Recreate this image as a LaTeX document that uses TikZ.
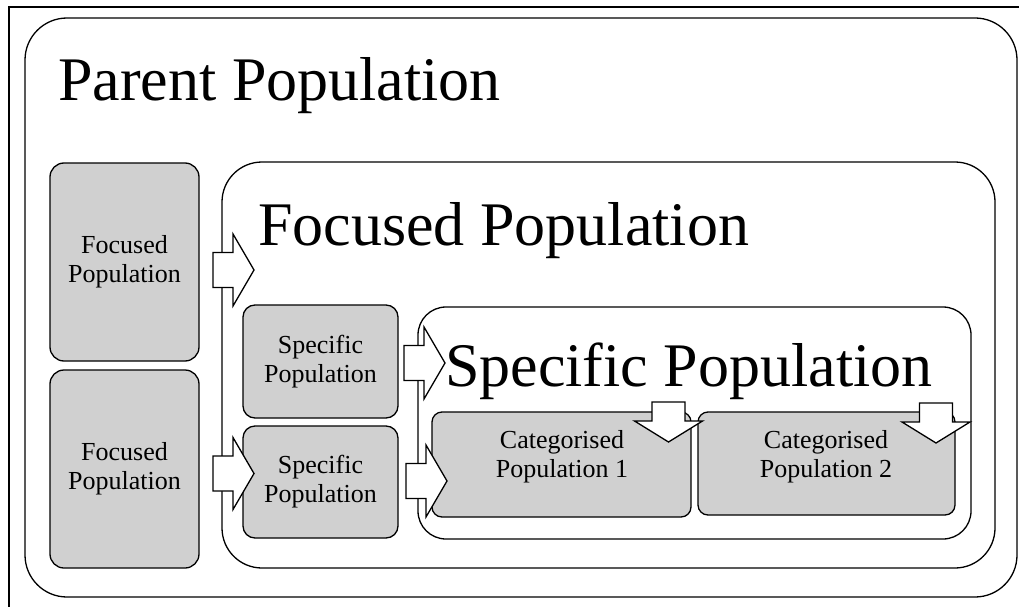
\documentclass[tikz,border=0pt]{standalone}
\usepackage{fontspec}
\setmainfont{Liberation Serif}
\begin{document}
\begin{tikzpicture}[x=1pt,y=-1pt,
  box/.style={draw=black, line width=1.3pt, rectangle, inner sep=0pt},
  smalltext/.style={align=center, font=\fontsize{26}{29}\selectfont},
  greybox/.style={box, fill=boxgrey, smalltext},
  bigtext/.style={anchor=base west, inner sep=0pt, font=\fontsize{62}{70}\selectfont},
  blockarrow/.style={draw=black, line width=1.3pt, fill=white, line join=miter},
  rarrow/.pic={\draw[blockarrow] (0,-17.5) -- (20,-17.5) -- (20,-36) -- (41,0) -- (20,36) -- (20,17.5) -- (0,17.5) -- cycle;},
  darrow/.pic={\draw[blockarrow] (-16.5,0) -- (16.5,0) -- (16.5,19) -- (34,19) -- (0,40) -- (-34,19) -- (-16.5,19) -- cycle;}
]
\definecolor{boxgrey}{RGB}{208,208,208}
\useasboundingbox (0,0) rectangle (1019,607);
\fill[white] (0,0) rectangle (1019,607);
% outer frame (top and left)
\draw[line width=2.6pt] (9,607) -- (9,7) -- (1019,7);
% boxes
\node[box, rounded corners=42pt, minimum width=992pt, minimum height=579pt] (parent) at (521,307.5) {};
\node[greybox, rounded corners=14pt, minimum width=149pt, minimum height=198pt] (fp1) at (124.5,262) {Focused\\Population};
\node[greybox, rounded corners=14pt, minimum width=149pt, minimum height=198pt] (fp2) at (124.5,469) {Focused\\Population};
\node[box, rounded corners=40pt, minimum width=773pt, minimum height=406pt] (focused) at (608.5,365) {};
\node[greybox, rounded corners=12pt, minimum width=155pt, minimum height=113pt] (sp1) at (320.5,361.5) {Specific\\Population};
\node[greybox, rounded corners=12pt, minimum width=155pt, minimum height=112pt] (sp2) at (320.5,482) {Specific\\Population};
\node[box, rounded corners=28pt, minimum width=553pt, minimum height=232pt] (specific) at (694.5,423) {};
\node[greybox, rounded corners=10pt, minimum width=259pt, minimum height=105pt] (cat1) at (561.5,464.5) {};
\node[greybox, rounded corners=10pt, minimum width=257pt, minimum height=103pt] (cat2) at (826.5,463.5) {};
\node[smalltext, inner sep=0pt] (cat1t) at (562,457) {Categorised\\Population 1};
\node[smalltext, inner sep=0pt] (cat2t) at (826,457) {Categorised\\Population 2};
% titles
\node[bigtext] (parentt) at (58,101) {Parent Population};
\node[bigtext] (focusedt) at (258,245) {Focused Population};
\node[bigtext] (specifict) at (445,386) {Specific Population};
% block arrows
\pic at (213,270) {rarrow};
\pic at (213,473.5) {rarrow};
\pic at (404,363) {rarrow};
\pic at (406,481) {rarrow};
\pic at (668.5,402) {darrow};
\pic at (936,403) {darrow};
\end{tikzpicture}
\end{document}
